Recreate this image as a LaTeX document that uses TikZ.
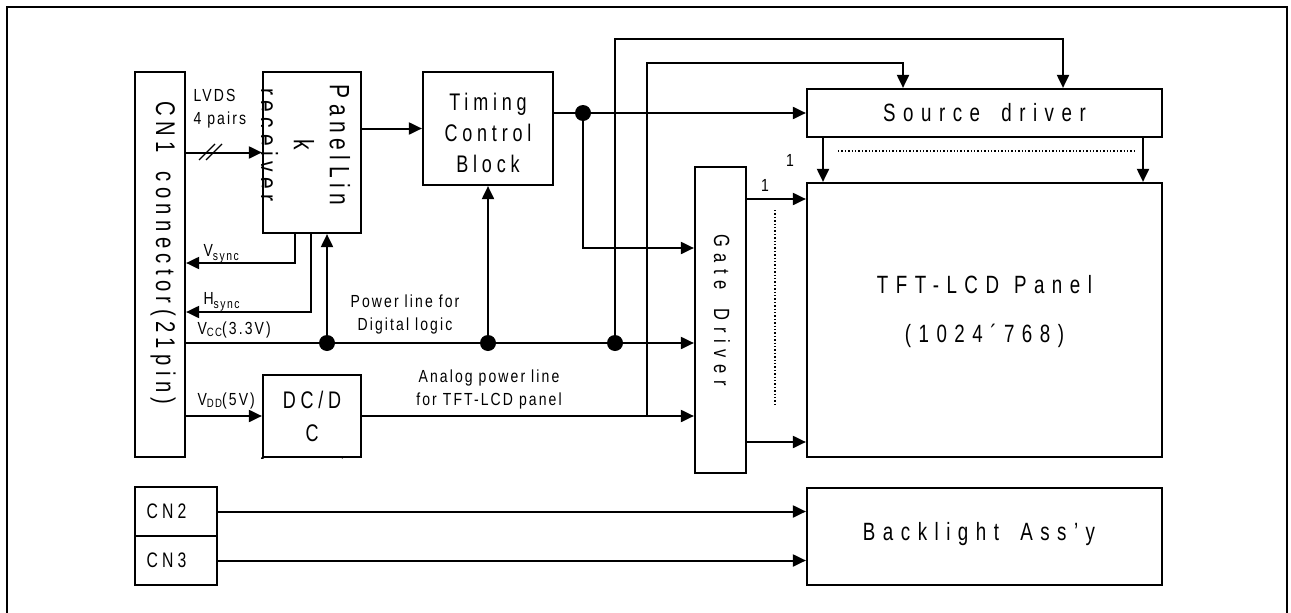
\documentclass[tikz,border=0pt]{standalone}
\usepackage{fontspec}
\setmainfont{Liberation Sans}
\newfontfamily\spwide[FakeStretch=0.75,LetterSpace=30]{Liberation Sans}
\newfontfamily\spmid[FakeStretch=0.75,LetterSpace=20]{Liberation Sans}
\newfontfamily\spnarrow[FakeStretch=0.8,LetterSpace=12]{Liberation Sans}
\newcommand{\gap}{\hspace{0.85em}}
\usetikzlibrary{arrows.meta,calc,positioning}

\begin{document}
\begin{tikzpicture}[x=1pt,y=-1pt,>={Triangle[length=13pt,width=12pt]},
  blk/.style={draw,line width=2.2pt,inner sep=0pt},
  wire/.style={line width=2pt},
  big/.style={font=\spwide\fontsize{25}{32}\selectfont},
  mid/.style={font=\spmid\fontsize{24}{31}\selectfont},
  lbl/.style={font=\spnarrow\fontsize{17.5}{23}\selectfont}]
  \useasboundingbox (0,0) rectangle (1291,613);
  \draw[line width=1.6pt] (7,613) -- (7,7) -- (1287,7) -- (1287,613);

  % blocks
  \node[blk,minimum width=50pt,minimum height=385pt] (cn1) at (160,264.5) {};
  \node[blk,minimum width=98pt,minimum height=161pt] (plink) at (312,152.5) {};
  \node[blk,minimum width=130pt,minimum height=113pt] (tcb) at (488,128.5) {};
  \node[blk,minimum width=355pt,minimum height=48pt] (src) at (984.5,113) {};
  \node[blk,minimum width=51pt,minimum height=306pt] (gate) at (720.5,320) {};
  \node[blk,minimum width=355pt,minimum height=274pt] (tft) at (984.5,320) {};
  \node[blk,minimum width=98pt,minimum height=82pt] (dcdc) at (312,416) {};
  \node[blk,minimum width=82pt,minimum height=49pt] (cn2) at (176,511.5) {};
  \node[blk,minimum width=82pt,minimum height=49pt] (cn3) at (176,560.5) {};
  \node[blk,minimum width=355pt,minimum height=97pt] (bl) at (984.5,536.5) {};

  % block texts
  \node[rotate=-90,font=\spmid\fontsize{27}{34}\selectfont] (cn1txt) at (163,253) {CN1\hspace{0.7em}connector(21pin)};
  \begin{scope}
    \clip (plink.south west) rectangle (plink.north east);
    \node[rotate=-90,align=center,font=\spmid\fontsize{28}{36}\selectfont] (plinktxt) at (304,145) {PanelLin\\k\\receiver};
  \end{scope}
  \node[mid,align=center] (tcbtxt) at (488,133) {Timing\\Control\\Block};
  \node[big] (srctxt) at (src) {Source\gap driver};
  \node[rotate=-90,font=\spwide\fontsize{22}{26}\selectfont] (gatetxt) at (722,310) {Gate\gap Driver};
  \node[big,align=center,font=\spwide\fontsize{25}{49}\selectfont] (tfttxt) at (984.5,312) {TFT-LCD\hspace{0.6em}Panel\\(1024´768)};
  \begin{scope}
    \clip (dcdc.south west) rectangle (dcdc.north east);
    \node[mid,align=center,anchor=north,font=\spmid\fontsize{24}{33}\selectfont] (dcdctxt) at (312,388) {DC/D\\C\\Converter};
  \end{scope}
  \node[font=\spmid\fontsize{21}{26}\selectfont,anchor=west] (cn2txt) at (143,511.5) {CN2};
  \node[font=\spmid\fontsize{21}{26}\selectfont,anchor=west] (cn3txt) at (143,560.5) {CN3};
  \node[big] (bltxt) at (979,534) {Backlight\gap Ass’y};

  % junctions
  \coordinate (d0) at (583,113);
  \coordinate (g1) at (583,248);
  \coordinate (j1) at (327,343);
  \coordinate (j2) at (488,343);
  \coordinate (j3) at (615,343);
  \coordinate (t1) at (615,39);
  \coordinate (a1) at (647,416);
  \coordinate (t2) at (647,63);
  \coordinate (vs) at (295,263);
  \coordinate (hs) at (311,312);
  \coordinate (go1) at (746,199);
  \coordinate (go2) at (746,442);
  \coordinate (so1) at (823,137);
  \coordinate (so2) at (1143,137);

  % connectors
  \draw[wire,->] (plink.west -| cn1.east) -- (plink.west);
  \draw[wire,line width=1.3pt] (199,160) -- (215,144) (206,160) -- (222,144);
  \draw[wire,->] (tcb.west -| plink.east) -- (tcb.west);
  \draw[wire,->] (vs |- plink.south) -- (vs) -- (vs -| cn1.east);
  \draw[wire,->] (hs |- plink.south) -- (hs) -- (hs -| cn1.east);
  \draw[wire,->] (cn1.east |- j1) -- (j1 -| gate.west);
  \draw[wire,->] (j1) -- (j1 |- plink.south);
  \draw[wire,->] (j2) -- (tcb.south);
  \draw[wire,->] (j3) -- (t1) -| ($(src.north)+(78.5,0)$);
  \draw[wire,->] (dcdc.west -| cn1.east) -- (dcdc.west);
  \draw[wire,->] (dcdc.east) -- (dcdc.east -| gate.west);
  \draw[wire,->] (a1) -- (t2) -| ($(src.north)+(-81.5,0)$);
  \draw[wire,->] (src.west -| tcb.east) -- (src.west);
  \draw[wire,->] (d0) -- (g1) -- (g1 -| gate.west);
  \draw[wire,->] (go1) -- (go1 -| tft.west);
  \draw[wire,->] (go2) -- (go2 -| tft.west);
  \draw[wire,->] (so1) -- (so1 |- tft.north);
  \draw[wire,->] (so2) -- (so2 |- tft.north);
  \draw[wire,->] (cn2.east) -- (cn2.east -| bl.west);
  \draw[wire,->] (cn3.east) -- (cn3.east -| bl.west);
  \draw[line width=1.4pt,dotted] (775,210) -- (775,405);
  \draw[line width=1.4pt,dotted] (838,151) -- (1135,151);
  \foreach \j in {d0,j1,j2,j3} \fill (\j) circle (8pt);

  % labels
  \node[lbl,anchor=west,align=left] (lvds) at (190,109) {LVDS\\4 pairs};
  \node[lbl,anchor=west] (vsync) at (200,254) {V\raisebox{-0.4ex}{\fontsize{13}{13}\selectfont sync}};
  \node[lbl,anchor=west] (hsync) at (200,302) {H\raisebox{-0.4ex}{\fontsize{13}{13}\selectfont sync}};
  \node[lbl,anchor=west] (vcc) at (194,330) {V\raisebox{-0.2ex}{\fontsize{12}{12}\selectfont CC}(3.3V)};
  \node[lbl,anchor=west] (vdd) at (194,401) {V\raisebox{-0.2ex}{\fontsize{12}{12}\selectfont DD}(5V)};
  \node[lbl,align=center] (plabel) at (405,314) {Power line for\\Digital logic};
  \node[lbl,align=center] (alabel) at (489,389) {Analog power line\\for TFT-LCD panel};
  \node[lbl] (one1) at (765,185) {1};
  \node[lbl] (one2) at (790,160) {1};
\end{tikzpicture}
\end{document}
